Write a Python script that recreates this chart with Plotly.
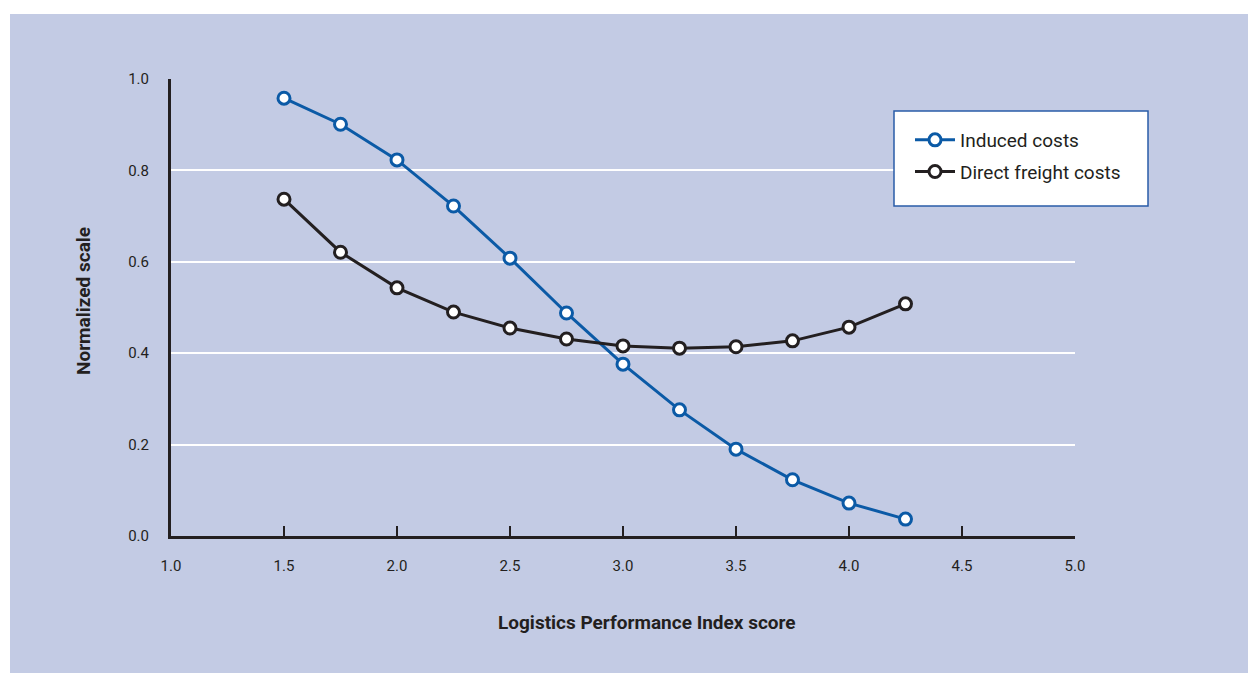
import plotly.graph_objects as go

lpi = [1.5, 1.75, 2.0, 2.25, 2.5, 2.75, 3.0, 3.25, 3.5, 3.75, 4.0, 4.25]
induced = [0.958, 0.901, 0.823, 0.722, 0.608, 0.488, 0.376, 0.276, 0.190, 0.123, 0.072, 0.037]
direct = [0.737, 0.621, 0.543, 0.490, 0.455, 0.431, 0.416, 0.411, 0.414, 0.427, 0.457, 0.508]
x_ticks = [1.0, 1.5, 2.0, 2.5, 3.0, 3.5, 4.0, 4.5, 5.0]
y_ticks = [0.0, 0.2, 0.4, 0.6, 0.8, 1.0]

BLUE = "#0b5aa6"
DARK = "#231f20"
BG = "#c3cbe4"
FONT = "Liberation Sans Narrow, Arial Narrow, Roboto, sans-serif"

W, H = 1248, 673
# screen coordinates of the plot area
L, R, T, B = 171, 1075, 79, 536


def px(xp):
    return (xp - L) / (R - L)


def py(yp):
    return (B - yp) / (B - T)


fig = go.Figure()
fig.add_trace(go.Scatter(
    x=lpi, y=induced, name="Induced costs", mode="lines+markers", legendgroup="a",
    line=dict(color=BLUE, width=3),
    marker=dict(symbol="circle", size=12, color="white", line=dict(color=BLUE, width=3)),
))
fig.add_trace(go.Scatter(
    x=lpi, y=direct, name="Direct freight costs", mode="lines+markers", legendgroup="b",
    line=dict(color=DARK, width=3),
    marker=dict(symbol="circle", size=12, color="white", line=dict(color=DARK, width=3)),
))

shapes = [
    dict(type="rect", xref="paper", yref="paper", x0=px(10), x1=px(1270), y0=py(700), y1=py(14),
         fillcolor=BG, line=dict(width=0), layer="below"),
    dict(type="rect", xref="paper", yref="paper", x0=px(894), x1=px(1148), y0=py(206), y1=py(111),
         fillcolor="white", line=dict(color="#2a5ca8", width=1.5), layer="above"),
]

annotations = [
    dict(text="<b>Logistics Performance Index score</b>", xref="paper", yref="paper",
         x=px(647), y=py(622), xanchor="center", yanchor="middle", showarrow=False,
         font=dict(size=19, family=FONT, color=DARK)),
    dict(text="<b>Normalized scale</b>", xref="paper", yref="paper",
         x=px(83), y=py(301), xanchor="center", yanchor="middle", showarrow=False,
         textangle=-90, font=dict(size=19, family=FONT, color=DARK)),
]

fig.update_layout(
    width=W, height=H,
    margin=dict(l=L, r=W - R, t=T, b=H - B, pad=0),
    paper_bgcolor="white", plot_bgcolor="rgba(0,0,0,0)",
    font=dict(family=FONT, color=DARK, size=15),
    shapes=shapes,
    annotations=annotations,
    showlegend=True,
    legend=dict(x=px(910), y=py(121), xanchor="left", yanchor="top",
                bgcolor="rgba(0,0,0,0)", borderwidth=0,
                font=dict(family=FONT, size=19, color=DARK), tracegroupgap=4,
                itemwidth=40),
    xaxis=dict(range=[1.0, 5.0], tickvals=x_ticks, ticktext=[f"{v:.1f}" for v in x_ticks],
               showgrid=False, zeroline=False, showline=True, linecolor=DARK, linewidth=3,
               ticks="inside", ticklen=10, tickwidth=2, tickcolor=DARK,
               ticklabelstandoff=14, tickfont=dict(size=15)),
    yaxis=dict(range=[0.0, 1.0], tickvals=y_ticks, ticktext=[f"{v:.1f}" for v in y_ticks],
               showgrid=True, gridcolor="white", gridwidth=2, zeroline=False,
               showline=True, linecolor=DARK, linewidth=3, ticks="",
               ticklabelstandoff=16, tickfont=dict(size=15)),
)

fig.write_html(
    "out.html",
    config={"displayModeBar": False},
    post_script="document.body.style.margin='0';document.body.style.overflow='hidden';",
)
